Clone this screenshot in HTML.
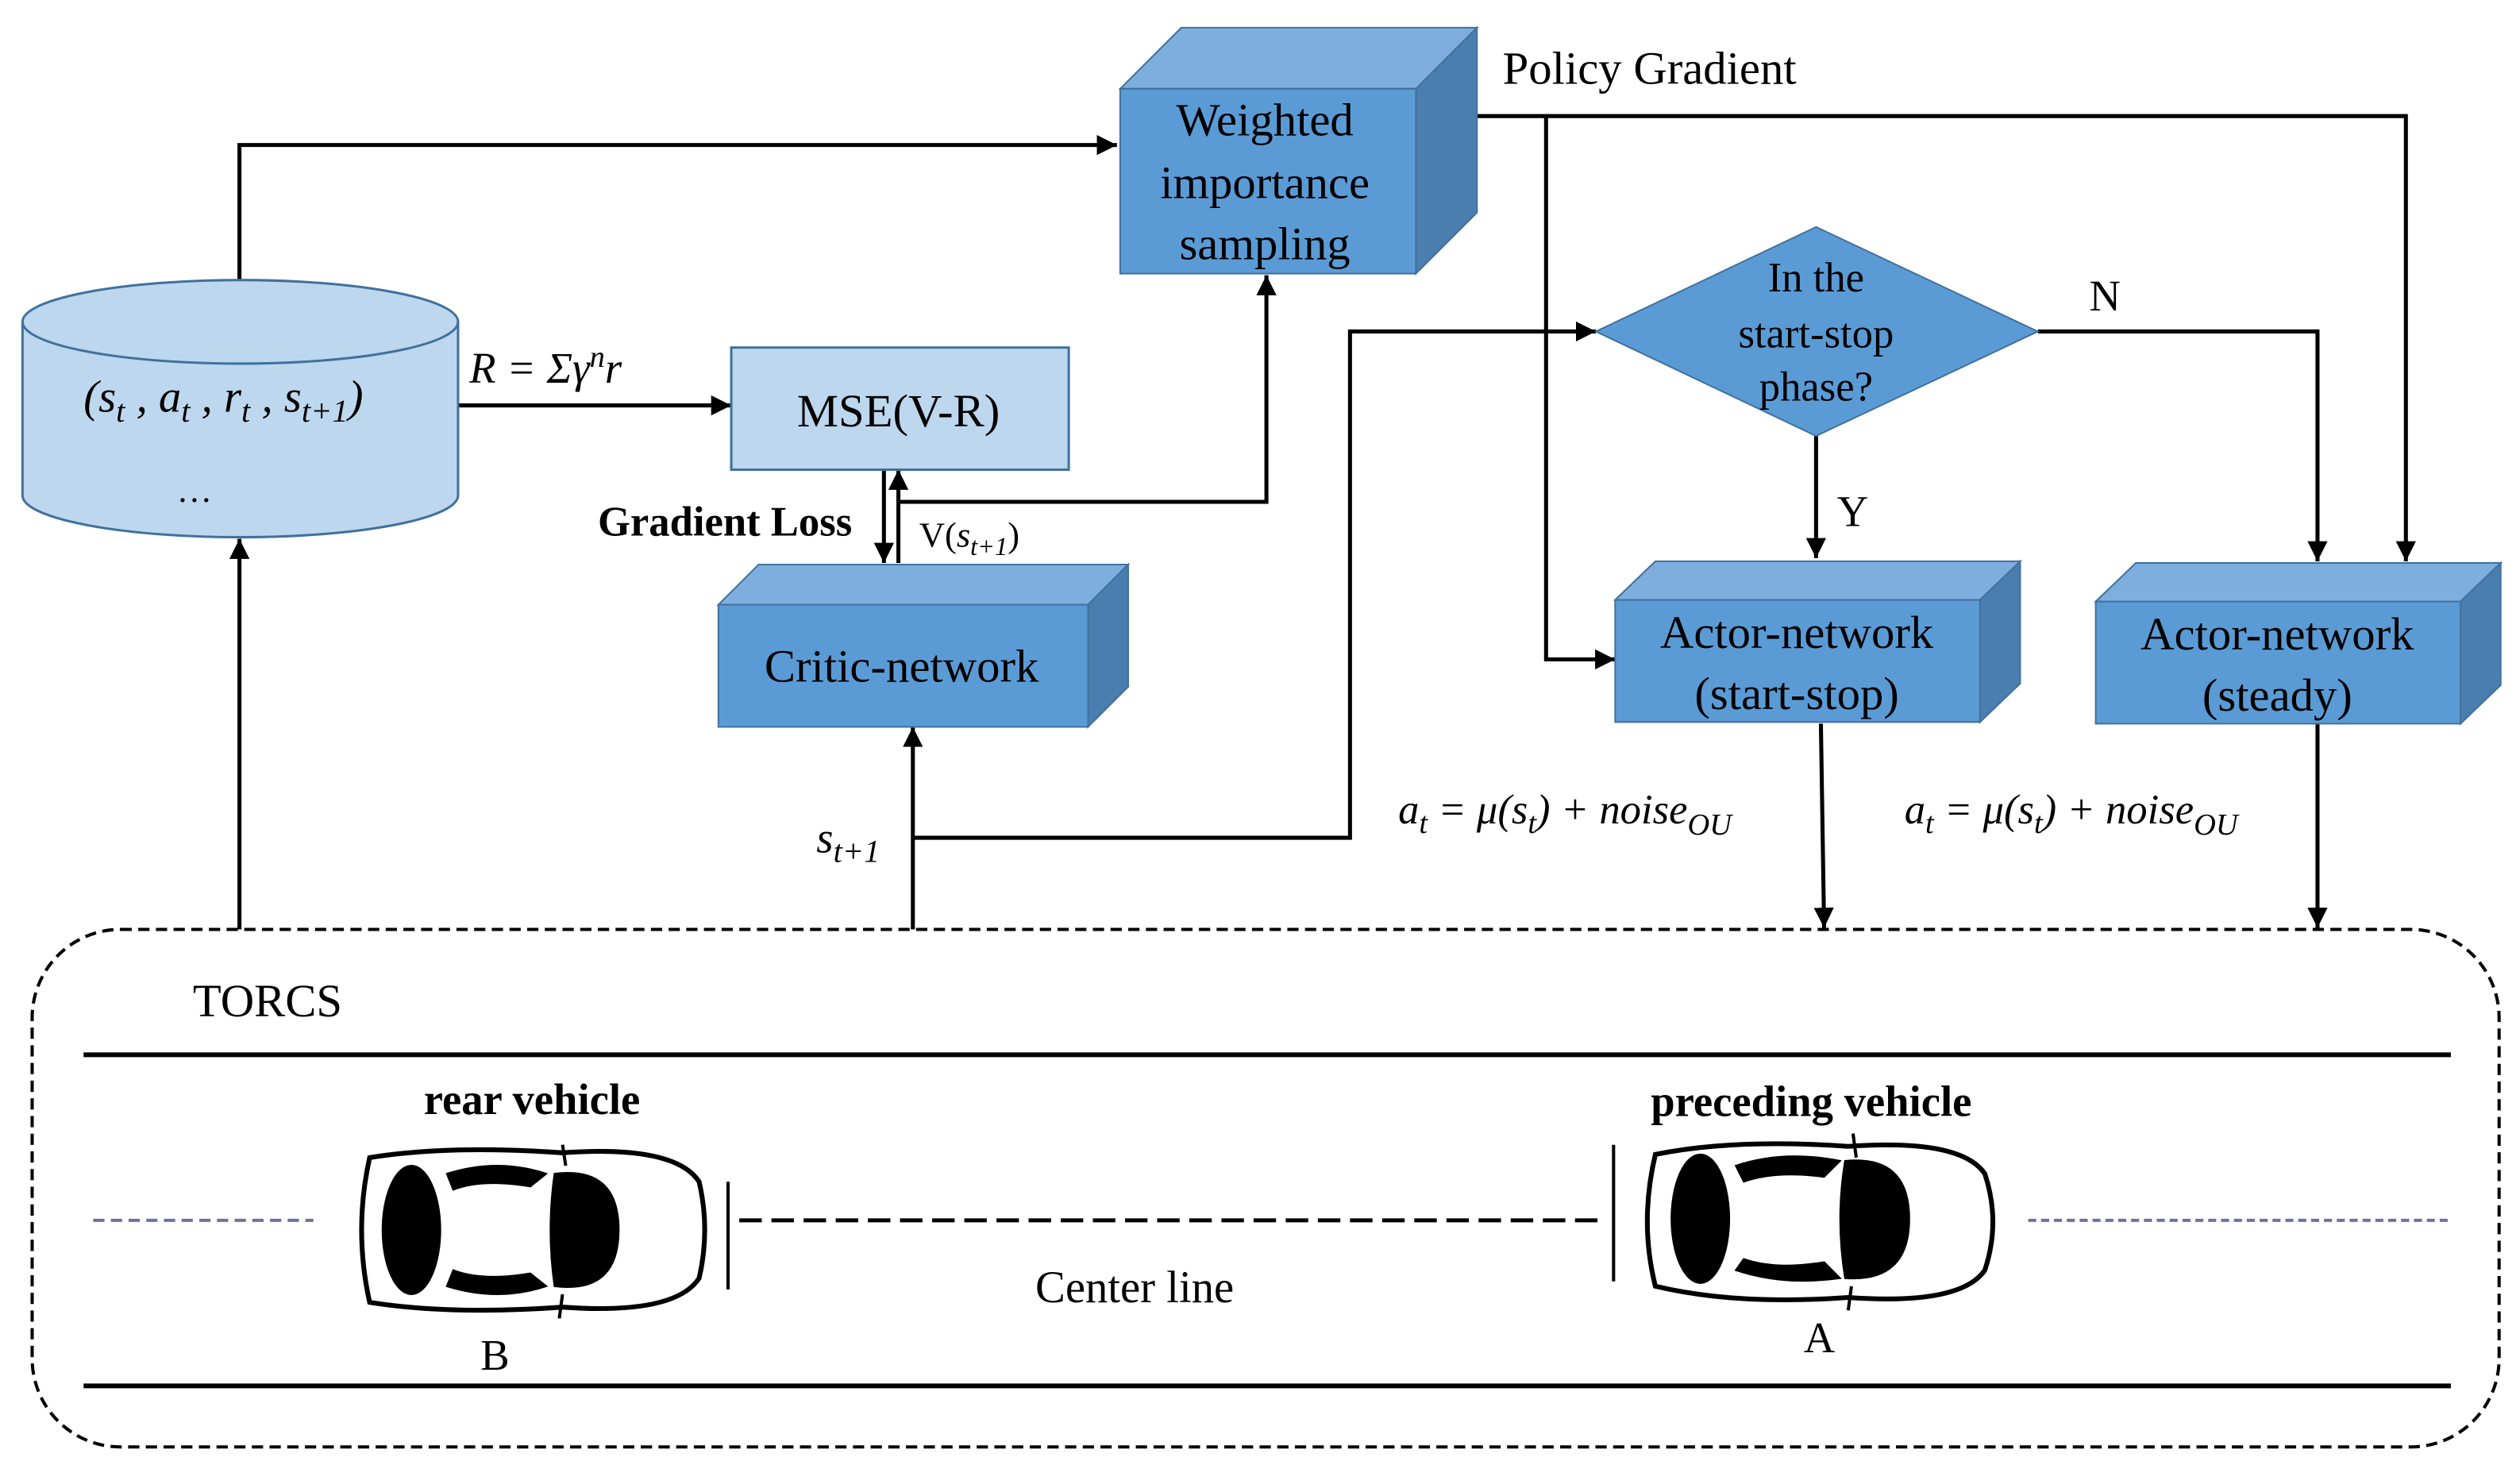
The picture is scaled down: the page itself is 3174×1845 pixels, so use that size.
<!DOCTYPE html>
<html><head><meta charset="utf-8"><style>html,body{margin:0;padding:0;background:#fff}svg{display:block;font-family:"Liberation Serif",serif}</style></head>
<body>
<svg xmlns="http://www.w3.org/2000/svg" width="3174" height="1845" viewBox="0 0 1568 911" font-family="'Liberation Serif', serif">
<defs>
<marker id="a" viewBox="0 0 10 10" refX="10" refY="5" markerWidth="5" markerHeight="5" orient="auto"><path d="M0,0L10,5L0,10z" fill="#000"/></marker>
</defs>
<rect width="1568" height="911" fill="#fff"/>
<g stroke="#000" stroke-width="2.5" fill="none">
<polyline points="149,175 149,90 695,90" marker-end="url(#a)"/>
<line x1="285" y1="252" x2="455" y2="252" marker-end="url(#a)"/>
<line x1="550" y1="292" x2="550" y2="350" marker-end="url(#a)"/>
<line x1="559" y1="350" x2="559" y2="292" marker-end="url(#a)"/>
<polyline points="559,312 788,312 788,171" marker-end="url(#a)"/>
<line x1="568" y1="578" x2="568" y2="452" marker-end="url(#a)"/>
<polyline points="568,521 840,521 840,206 993,206" marker-end="url(#a)"/>
<polyline points="919,72 1497,72 1497,349" marker-end="url(#a)"/>
<polyline points="962,72 962,410 1005,410" marker-end="url(#a)"/>
<polyline points="1268,206 1442,206 1442,349" marker-end="url(#a)"/>
<line x1="1130" y1="271" x2="1130" y2="347" marker-end="url(#a)"/>
<line x1="1133" y1="450" x2="1135" y2="577" marker-end="url(#a)"/>
<line x1="1442" y1="450" x2="1442" y2="577" marker-end="url(#a)"/>
<line x1="149" y1="578" x2="149" y2="335" marker-end="url(#a)"/>
</g>
<path d="M14,200 L14,308 A135.5,26 0 0 0 285,308 L285,200" fill="#BDD7EE" stroke="#41719C" stroke-width="1.5"/>
<ellipse cx="149.5" cy="200" rx="135.5" ry="26" fill="#BDD7EE" stroke="#41719C" stroke-width="1.5"/>
<text x="52" y="256" font-size="28" font-style="italic">(s<tspan font-size="20" dy="6">t</tspan><tspan dy="-6"> , a</tspan><tspan font-size="20" dy="6">t</tspan><tspan dy="-6"> , r</tspan><tspan font-size="20" dy="6">t</tspan><tspan dy="-6"> , s</tspan><tspan font-size="20" dy="6">t+1</tspan><tspan dy="-6">)</tspan></text>
<text x="110" y="312" font-size="22">…</text>
<polygon points="697,55 735,17 919,17 881,55" fill="#7EAEDD" stroke="#41719C"/>
<polygon points="881,55 919,17 919,132 881,170" fill="#4A7EAE" stroke="#41719C"/>
<rect x="697" y="55" width="184" height="115" fill="#5B9BD5" stroke="#41719C"/>
<g font-size="29" text-anchor="middle"><text x="787" y="84">Weighted</text><text x="787" y="123">importance</text><text x="787" y="161">sampling</text></g>
<rect x="455" y="216" width="210" height="76" fill="#BDD7EE" stroke="#41719C" stroke-width="1.5"/>
<text x="559" y="265" font-size="29" text-anchor="middle">MSE(V-R)</text>
<text x="292" y="238" font-size="27" font-style="italic">R = Σγ<tspan font-size="19" dy="-10">n</tspan><tspan dy="10">r</tspan></text>
<text x="372" y="333" font-size="26" font-weight="bold">Gradient Loss</text>
<text x="572" y="340" font-size="22">V(<tspan font-style="italic">s</tspan><tspan font-size="16" font-style="italic" dy="5">t+1</tspan><tspan dy="-5">)</tspan></text>
<polygon points="447,376 472,351 702,351 677,376" fill="#7EAEDD" stroke="#41719C"/>
<polygon points="677,376 702,351 702,427 677,452" fill="#4A7EAE" stroke="#41719C"/>
<rect x="447" y="376" width="230" height="76" fill="#5B9BD5" stroke="#41719C"/>
<text x="561" y="424" font-size="29" text-anchor="middle">Critic-network</text>
<text x="508" y="530" font-size="27" font-style="italic">s<tspan font-size="20" dy="6">t+1</tspan></text>
<text x="935" y="52" font-size="29">Policy Gradient</text>
<polygon points="993,206 1130,141 1268,206 1130,271" fill="#5B9BD5" stroke="#41719C"/>
<g font-size="26" text-anchor="middle"><text x="1130" y="181">In the</text><text x="1130" y="216">start-stop</text><text x="1130" y="249">phase?</text></g>
<text x="1300" y="193" font-size="27">N</text>
<text x="1143" y="327" font-size="27">Y</text>
<polygon points="1005,373 1030,349 1257,349 1232,373" fill="#7EAEDD" stroke="#41719C"/>
<polygon points="1232,373 1257,349 1257,425 1232,449" fill="#4A7EAE" stroke="#41719C"/>
<rect x="1005" y="373" width="227" height="76" fill="#5B9BD5" stroke="#41719C"/>
<g font-size="29" text-anchor="middle"><text x="1118" y="403">Actor-network</text><text x="1118" y="441">(start-stop)</text></g>
<polygon points="1304,374 1329,350 1556,350 1531,374" fill="#7EAEDD" stroke="#41719C"/>
<polygon points="1531,374 1556,350 1556,426 1531,450" fill="#4A7EAE" stroke="#41719C"/>
<rect x="1304" y="374" width="227" height="76" fill="#5B9BD5" stroke="#41719C"/>
<g font-size="29" text-anchor="middle"><text x="1417" y="404">Actor-network</text><text x="1417" y="442">(steady)</text></g>
<g font-size="26" font-style="italic"><text x="870" y="512">a<tspan font-size="19" dy="6">t</tspan><tspan dy="-6"> = μ(s</tspan><tspan font-size="19" dy="6">t</tspan><tspan dy="-6">) + noise</tspan><tspan font-size="19" dy="7">OU</tspan></text>
<text x="1185" y="512">a<tspan font-size="19" dy="6">t</tspan><tspan dy="-6"> = μ(s</tspan><tspan font-size="19" dy="6">t</tspan><tspan dy="-6">) + noise</tspan><tspan font-size="19" dy="7">OU</tspan></text></g>
<rect x="20" y="578" width="1535" height="322" rx="55" ry="55" fill="none" stroke="#000" stroke-width="2" stroke-dasharray="7,4"/>
<text x="120" y="632" font-size="29">TORCS</text>
<line x1="52" y1="656" x2="1525" y2="656" stroke="#000" stroke-width="3"/>
<line x1="52" y1="862" x2="1525" y2="862" stroke="#000" stroke-width="3"/>
<line x1="58" y1="759" x2="195" y2="759" stroke="#7070a0" stroke-width="2" stroke-dasharray="7,4"/>
<line x1="1262" y1="759" x2="1525" y2="759" stroke="#7070a0" stroke-width="2" stroke-dasharray="5,3"/>
<line x1="460" y1="759" x2="998" y2="759" stroke="#000" stroke-width="2.5" stroke-dasharray="14,6"/>
<line x1="453" y1="735" x2="453" y2="802" stroke="#000" stroke-width="2"/>
<line x1="1004" y1="712" x2="1004" y2="797" stroke="#000" stroke-width="2"/>
<g stroke="#000" fill="#000">
<path d="M230,720 Q280,712 350,717 Q420,712 435,735 Q442,765 435,795 Q420,818 350,813 Q280,818 230,810 Q220,765 230,720z" fill="#fff" stroke-width="3"/>
<ellipse cx="256" cy="765" rx="18" ry="40"/>
<path d="M345,730 Q385,725 385,765 Q385,805 345,800 Q340,765 345,730z"/>
<path d="M278,730 Q310,720 340,730 L330,738 Q300,733 282,740z"/>
<path d="M278,800 Q310,810 340,800 L330,792 Q300,797 282,790z"/>
<line x1="350" y1="712" x2="352" y2="725" stroke-width="2"/>
<line x1="350" y1="805" x2="348" y2="820" stroke-width="2"/>
</g>
<g stroke="#000" fill="#000">
<path d="M1030,718 Q1080,708 1150,713 Q1220,708 1235,730 Q1245,760 1235,790 Q1220,812 1150,807 Q1080,812 1030,800 Q1020,760 1030,718z" fill="#fff" stroke-width="3"/>
<ellipse cx="1058" cy="758" rx="18" ry="40"/>
<path d="M1148,722 Q1188,718 1188,758 Q1188,798 1148,795 Q1142,758 1148,722z"/>
<path d="M1080,725 Q1110,715 1145,722 L1135,732 Q1105,728 1085,735z"/>
<path d="M1080,790 Q1110,800 1145,795 L1135,785 Q1105,790 1085,783z"/>
<line x1="1153" y1="705" x2="1155" y2="720" stroke-width="2"/>
<line x1="1152" y1="800" x2="1150" y2="815" stroke-width="2"/>
</g>
<text x="331" y="693" font-size="27" font-weight="bold" text-anchor="middle">rear vehicle</text>
<text x="1127" y="694" font-size="27" font-weight="bold" text-anchor="middle">preceding vehicle</text>
<text x="308" y="852" font-size="27" text-anchor="middle">B</text>
<text x="1132" y="841" font-size="27" text-anchor="middle">A</text>
<text x="706" y="810" font-size="28" text-anchor="middle">Center line</text>
</svg>
</body></html>
